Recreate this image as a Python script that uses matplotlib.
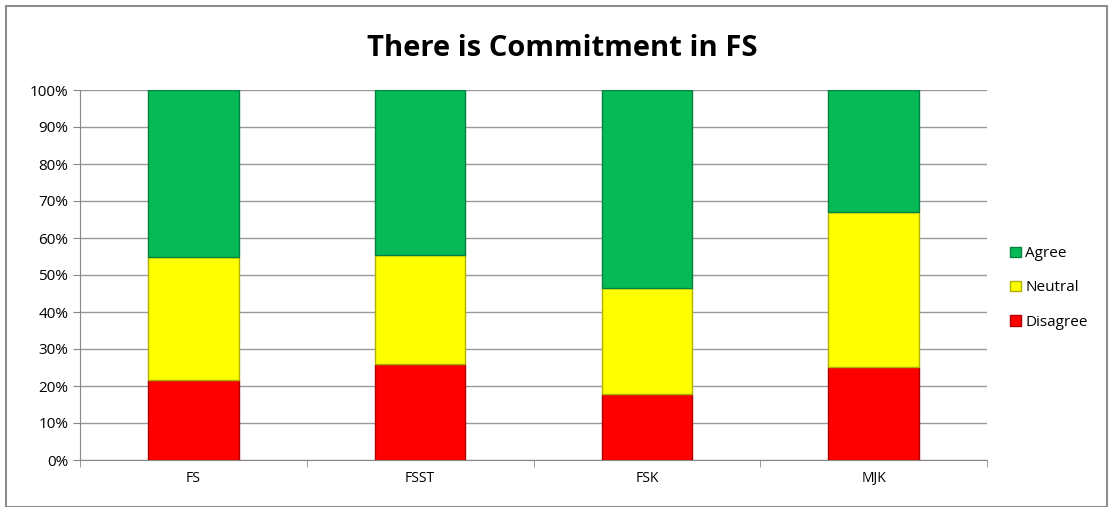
import matplotlib.pyplot as plt
import matplotlib.patches as mpatches
import numpy as np

categories = ["FS", "FSST", "FSK", "MJK"]
disagree = np.array([21.6, 25.9, 17.9, 25.2])
neutral = np.array([33.3, 29.5, 28.5, 41.8])
agree = 100 - disagree - neutral

plt.rcParams['font.family'] = ['Open Sans', 'DejaVu Sans']

fig = plt.figure(figsize=(11.13, 5.07), dpi=100)
fig.patches.append(mpatches.Rectangle((0.005, 0.0), 0.99, 0.988, transform=fig.transFigure,
                                      fill=False, edgecolor='#8c8c8c', linewidth=1.5))
ax = fig.add_axes([80 / 1113, 1 - 460 / 507, 907 / 1113, 370 / 507])

x = np.arange(len(categories))
w = 0.4
ax.bar(x, disagree, w, color='#ff0000', edgecolor='#b00000', linewidth=1, label='Disagree', zorder=3)
ax.bar(x, neutral, w, bottom=disagree, color='#ffff00', edgecolor='#b0b000', linewidth=1, label='Neutral', zorder=3)
ax.bar(x, agree, w, bottom=disagree + neutral, color='#06bb55', edgecolor='#048040', linewidth=1, label='Agree', zorder=3)

ax.set_xlim(-0.5, len(categories) - 0.5)
ax.set_ylim(0, 100)
ax.set_yticks(np.arange(0, 101, 10))
ax.set_yticklabels([f"{v}%" for v in range(0, 101, 10)], fontsize=11)
ax.set_xticks(x)
ax.set_xticklabels(categories, fontsize=10)
ax.set_xticks(np.arange(-0.5, len(categories), 1), minor=True)
ax.tick_params(axis='x', which='major', length=0, pad=8)
ax.tick_params(axis='x', which='minor', length=5, color='#888888')
ax.tick_params(axis='y', length=5, color='#888888')
ax.grid(axis='y', color='#999999', linewidth=1, zorder=0)
for s in ['top', 'right']:
    ax.spines[s].set_visible(False)
ax.spines['left'].set_color('#888888')
ax.spines['bottom'].set_color('#888888')

handles, labels = ax.get_legend_handles_labels()
ax.legend(handles[::-1], labels[::-1], loc='center left', bbox_to_anchor=(1.01, 0.465),
          frameon=False, fontsize=11, handlelength=0.7, handleheight=0.7, labelspacing=1.25,
          handletextpad=0.3)

fig.text(0.505, 0.905, "There is Commitment in FS", ha='center', va='center', fontsize=21, fontweight='bold')

fig.savefig("out.png", dpi=100)
